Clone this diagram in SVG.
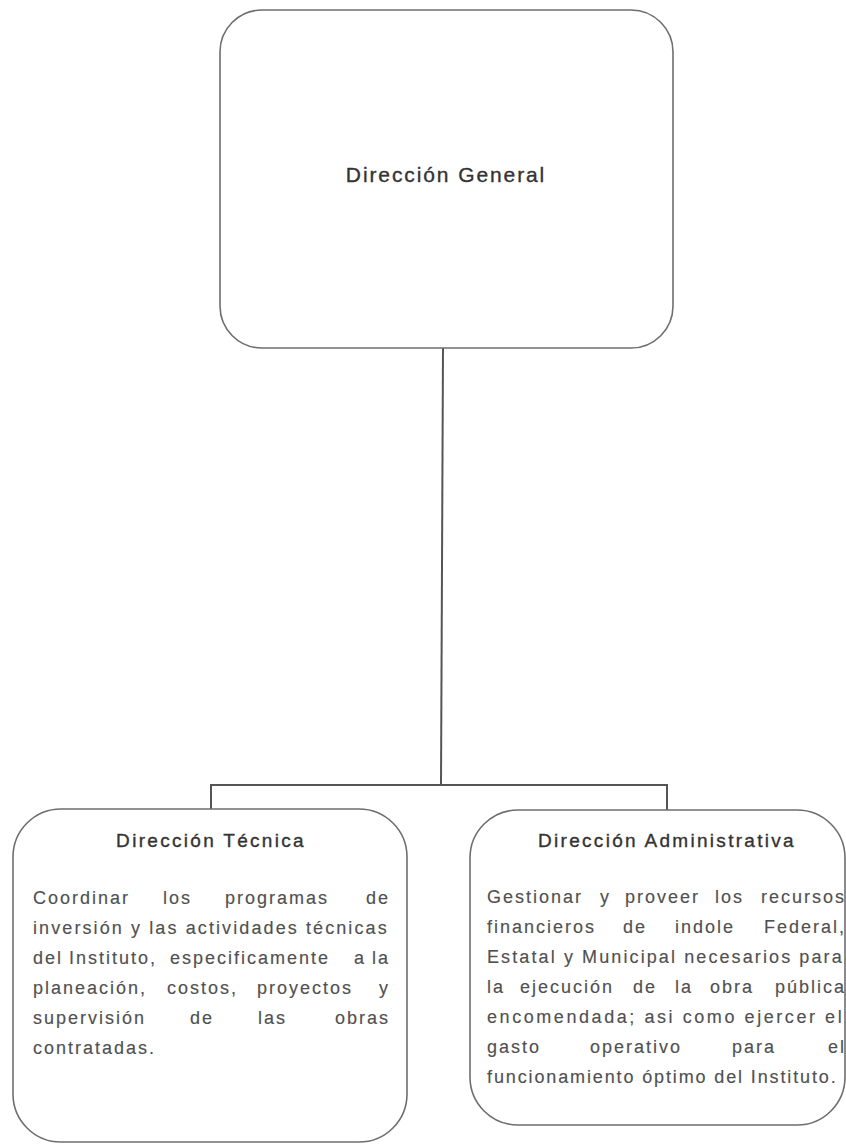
<svg xmlns="http://www.w3.org/2000/svg" width="846" height="1144" viewBox="0 0 846 1144">
<style>
  .box { fill: #ffffff; stroke: #6e6e6e; stroke-width: 1.6; }
  .conn { fill: none; stroke: #555555; stroke-width: 2; }
  .title { font-family: "Liberation Sans", Arial, sans-serif; font-size: 19px; letter-spacing: 2.3px; fill: #333333; stroke: #333333; stroke-width: 0.35px; text-anchor: middle; }
  .big { font-size: 21px; letter-spacing: 1.9px; }
  .body { font-family: "Liberation Sans", Arial, sans-serif; font-size: 18px; letter-spacing: 2px; fill: #505050; stroke: #505050; stroke-width: 0.15px; }
  .nat { letter-spacing: 1.3px; }
  .end { text-anchor: end; }
</style>
<rect width="846" height="1144" fill="#ffffff"/>
<g id="connectors">
  <path class="conn" d="M443 348 L441 785"/>
  <path class="conn" d="M211 810 L211 785 L667 785 L667 810"/>
</g>
<g id="direccion-general">
  <rect class="box" x="220" y="10" width="453" height="338" rx="42" ry="42"/>
  <text class="title big" x="446" y="182">Dirección General</text>
</g>
<g id="direccion-tecnica">
  <rect class="box" x="13" y="809" width="394" height="333" rx="48" ry="48"/>
  <text class="title" x="211" y="847">Dirección Técnica</text>
  <text class="body" y="904"><tspan x="33">Coordinar</tspan><tspan x="163">los</tspan><tspan x="225">programas</tspan><tspan class="end" x="390">de</tspan></text>
  <text class="body nat" x="33" y="934" textLength="355" lengthAdjust="spacing">inversión y las actividades técnicas</text>
  <text class="body" y="964"><tspan x="33">del</tspan><tspan x="69">Instituto,</tspan><tspan x="170">especificamente</tspan><tspan x="354">a</tspan><tspan class="end" x="390">la</tspan></text>
  <text class="body" y="994"><tspan x="33">planeación,</tspan><tspan x="167">costos,</tspan><tspan x="257">proyectos</tspan><tspan class="end" x="390">y</tspan></text>
  <text class="body" y="1024"><tspan x="33">supervisión</tspan><tspan x="190">de</tspan><tspan x="258">las</tspan><tspan class="end" x="390">obras</tspan></text>
  <text class="body" x="33" y="1054">contratadas.</text>
</g>
<g id="direccion-administrativa">
  <rect class="box" x="470" y="810" width="375" height="315" rx="48" ry="48"/>
  <text class="title" x="667" y="847">Dirección Administrativa</text>
  <text class="body" y="903"><tspan x="487">Gestionar</tspan><tspan x="600">y</tspan><tspan x="625">proveer</tspan><tspan x="715">los</tspan><tspan class="end" x="846">recursos</tspan></text>
  <text class="body" y="933"><tspan x="487">financieros</tspan><tspan x="623">de</tspan><tspan x="675">indole</tspan><tspan class="end" x="846">Federal,</tspan></text>
  <text class="body nat" x="487" y="963" textLength="356" lengthAdjust="spacing">Estatal y Municipal necesarios para</text>
  <text class="body" y="993"><tspan x="487">la</tspan><tspan x="520">ejecución</tspan><tspan x="633">de</tspan><tspan x="675">la</tspan><tspan x="710">obra</tspan><tspan class="end" x="846">pública</tspan></text>
  <text class="body nat" x="487" y="1023" textLength="356" lengthAdjust="spacing">encomendada; asi como ejercer el</text>
  <text class="body" y="1053"><tspan x="487">gasto</tspan><tspan x="590">operativo</tspan><tspan x="732">para</tspan><tspan class="end" x="846">el</tspan></text>
  <text class="body nat" x="487" y="1083" textLength="350" lengthAdjust="spacing">funcionamiento óptimo del Instituto.</text>
</g>
</svg>
